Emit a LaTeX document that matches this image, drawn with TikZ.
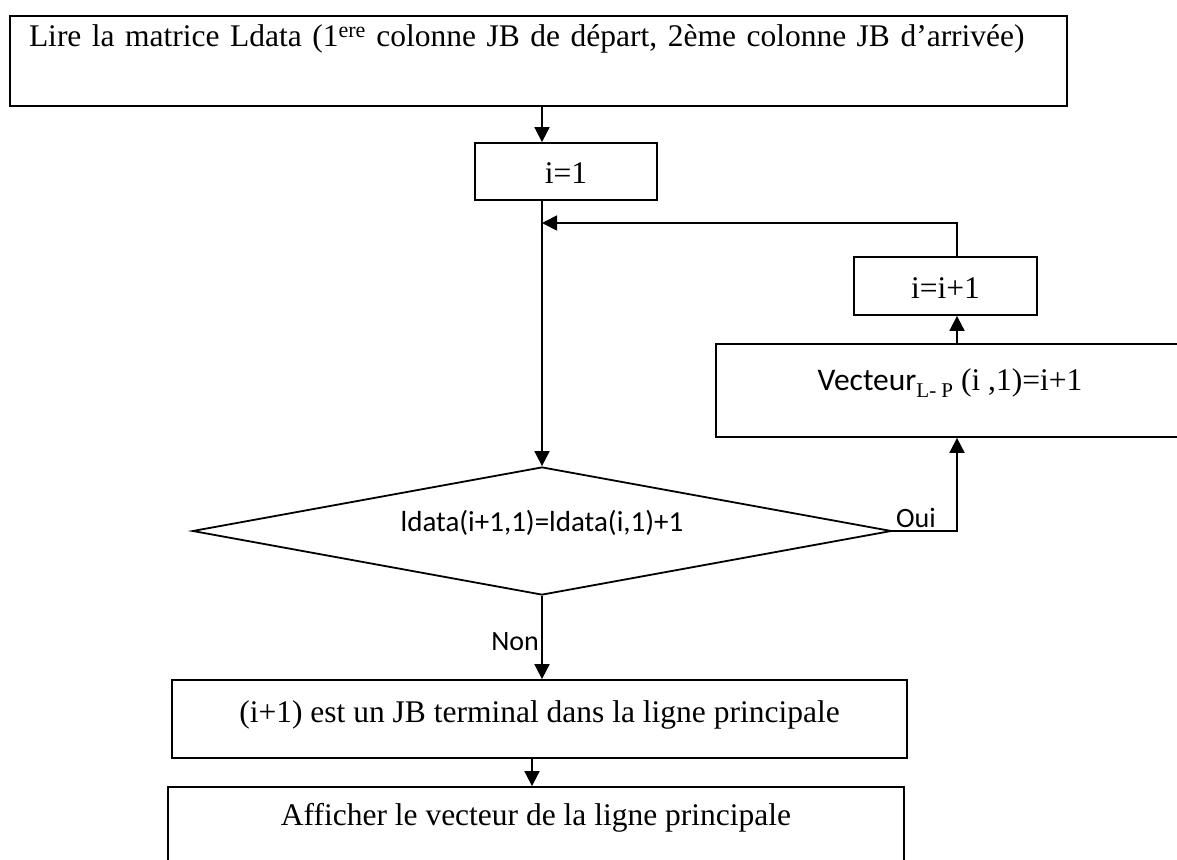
\documentclass[tikz,border=0pt]{standalone}
\usepackage{fontspec}
\setmainfont{Liberation Serif}
\newfontfamily\calibri{Carlito}
\usetikzlibrary{shapes.geometric,arrows.meta}
\begin{document}
\begin{tikzpicture}[x=1pt,y=-1pt,
  box/.style={draw, rectangle, line width=1.8pt, inner xsep=0pt, inner ysep=0pt,
              font=\fontsize{31.5}{36}\selectfont},
  cond/.style={draw, diamond, line width=1.8pt, inner sep=0pt, aspect=5.46,
              font=\calibri\fontsize{29}{30}\selectfont},
  arr/.style={line width=1.8pt, -{Triangle[length=15pt,width=15pt]}},
  lab/.style={font=\calibri\fontsize{28}{30}\selectfont, inner sep=0pt}]
\useasboundingbox (0,0) rectangle (1177,859);
\fill[white] (0,0) rectangle (1177,859);
\clip (0,0) rectangle (1177,859);

% vertical guide lines for the connectors
\coordinate (spine) at (542,0);
\coordinate (rx) at (957,0);
\coordinate (px) at (532,0);
\coordinate (join) at (542,223);

% boxes
\node[box, minimum width=1057pt, text width=1019pt, align=left, inner xsep=19pt,
      text height=31pt, text depth=59pt] (lire) at (538.5,61)
  {Lire la matrice Ldata (1\textsuperscript{ere} colonne JB de départ, 2ème colonne JB d’arrivée)};
\node[box, minimum width=182pt, text height=40pt, text depth=17pt] (i1) at (566,171.5) {i=1};
\node[box, minimum width=183pt, text height=41pt, text depth=17pt] (inc) at (945.5,286) {i=i+1};
\node[box, minimum width=468pt, text height=46pt, text depth=47pt] (vec) at (950,390.5)
  {{\calibri Vecteur}\raisebox{-7pt}{\fontsize{21}{21}\selectfont L- P} (i ,1)=i+1};
\node[cond, minimum width=699pt, minimum height=128pt, text height=14pt, text depth=14pt]
  (test) at (542,531) {ldata(i+1,1)=ldata(i,1)+1};
\node[box, minimum width=735pt, text height=42pt, text depth=36pt] (res) at (539.5,719)
  {(i+1) est un JB terminal dans la ligne principale};
\node[box, minimum width=736pt, text height=38pt, text depth=52pt] (show) at (536,832)
  {Afficher le vecteur de la ligne principale};

% connectors
\draw[arr] (lire.south -| spine) -- (i1.north -| spine);
\draw[arr] (i1.south -| spine) -- (test.north);
\draw[arr] (inc.north -| rx) |- (join);
\draw[arr] (vec.north -| rx) -- (inc.south -| rx);
\draw[arr] (test.east) -| (vec.south -| rx);
\draw[arr] (test.south) -- (res.north -| test.south);
\draw[arr] (res.south -| px) -- (show.north -| px);

% branch labels
\node[lab, anchor=east] (non) at (539,642) {Non};
\node[lab, anchor=base west] (oui) at (896,527) {Oui};
\end{tikzpicture}
\end{document}
